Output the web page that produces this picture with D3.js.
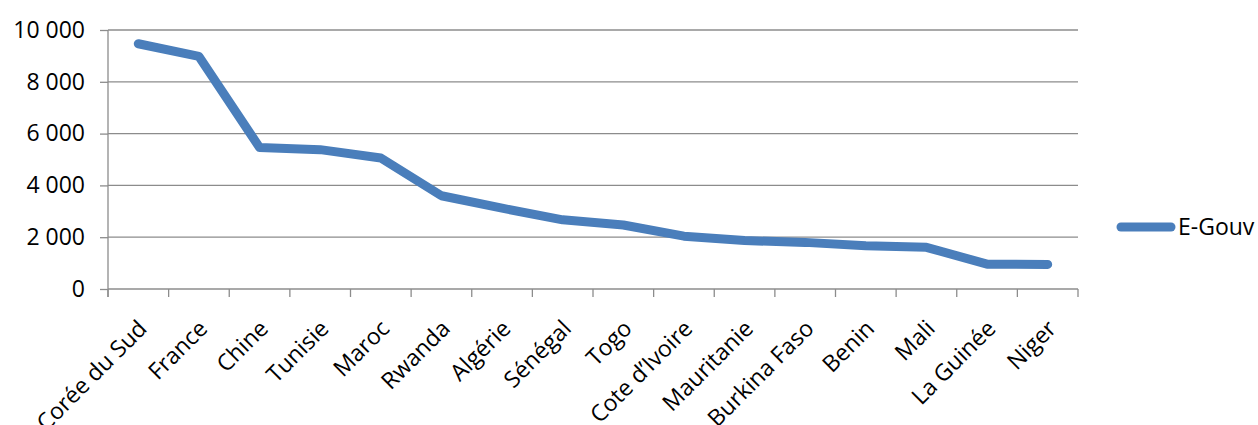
<!DOCTYPE html>
<html>
<head>
<meta charset="utf-8">
<script src="https://cdn.jsdelivr.net/npm/d3@7"></script>
<style>
  html, body { margin: 0; padding: 0; background: #fff; }
  svg { display: block; }
  text { font-family: "Open Sans", sans-serif; fill: #000; }
</style>
</head>
<body>
<svg id="chart" width="1258" height="425"></svg>
<script>
const categories = ["Corée du Sud", "France", "Chine", "Tunisie", "Maroc", "Rwanda", "Algérie", "Sénégal", "Togo", "Cote d’Ivoire", "Mauritanie", "Burkina Faso", "Benin", "Mali", "La Guinée", "Niger"];
const egouv = [9470, 8980, 5460, 5380, 5060, 3600, 3120, 2670, 2470, 2040, 1870, 1800, 1670, 1610, 960, 950];
const yTicks = [0, 2000, 4000, 6000, 8000, 10000];
const seriesName = "E-Gouv";

(function () {
const svg = d3.select("#chart");
const mLeft = 108, mRight = 1078, mTop = 30, mBottom = 289;
const gridColor = "#8c8c8c";
const lineColor = "#4a7ebb";
const fontSize = "23px";

const x = d3.scaleBand().domain(categories).range([mLeft, mRight]).paddingInner(0).paddingOuter(0);
const y = d3.scaleLinear().domain([0, 10000]).range([mBottom, mTop]);

const fmt = v => d3.format(",")(v).replace(/,/g, " ");

// gridlines + y axis
const yAxis = d3.axisLeft(y).tickValues(yTicks).tickSize(8).tickFormat(fmt).tickPadding(15);
const gy = svg.append("g").attr("transform", `translate(${mLeft},0)`).call(yAxis);
gy.select(".domain").attr("stroke", gridColor).attr("stroke-width", 1.3).attr("d", `M0,${mTop}V${mBottom + 8}`);
gy.selectAll(".tick line").attr("stroke", gridColor).attr("stroke-width", 1.3);
gy.selectAll(".tick text").style("font-size", fontSize).attr("font-family", null);

svg.append("g").selectAll("line").data(yTicks.filter(d => d > 0)).join("line")
  .attr("x1", mLeft).attr("x2", mRight)
  .attr("y1", d => y(d)).attr("y2", d => y(d))
  .attr("stroke", gridColor).attr("stroke-width", 1.3);

// x axis
const gx = svg.append("g").attr("transform", `translate(0,${mBottom})`);
gx.append("line").attr("x1", mLeft).attr("x2", mRight).attr("y1", 0).attr("y2", 0)
  .attr("stroke", gridColor).attr("stroke-width", 1.3);
const bounds = categories.map(c => x(c)).concat([mRight]);
gx.selectAll("line.tk").data(bounds).join("line").attr("class", "tk")
  .attr("x1", d => d).attr("x2", d => d).attr("y1", 0).attr("y2", 8)
  .attr("stroke", gridColor).attr("stroke-width", 1.3);
gx.selectAll("text.lbl").data(categories).join("text").attr("class", "lbl")
  .attr("text-anchor", "end")
  .attr("transform", d => `translate(${x(d) + x.bandwidth() / 2 + 10},${41})rotate(-45)`)
  .style("font-size", fontSize)
  .text(d => d);

// line
const line = d3.line().x((d, i) => x(categories[i]) + x.bandwidth() / 2).y(d => y(d));
svg.append("path").datum(egouv)
  .attr("d", line)
  .attr("fill", "none").attr("stroke", lineColor).attr("stroke-width", 9)
  .attr("stroke-linejoin", "round").attr("stroke-linecap", "round");

// legend
const lg = svg.append("g").attr("transform", "translate(1117,227)");
lg.append("line").attr("x1", 4).attr("x2", 54).attr("y1", 0).attr("y2", 0)
  .attr("stroke", lineColor).attr("stroke-width", 9).attr("stroke-linecap", "round");
lg.append("text").attr("x", 61).attr("dy", "0.35em").style("font-size", fontSize).text(seriesName);
})();
</script>
</body>
</html>
